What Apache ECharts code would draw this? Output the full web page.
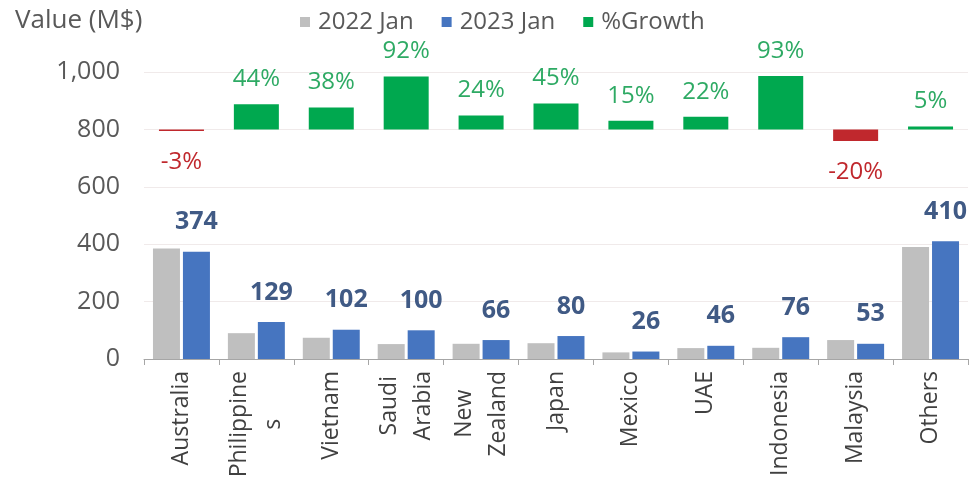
<!DOCTYPE html>
<html>
<head>
<meta charset="utf-8">
<script src="https://cdn.jsdelivr.net/npm/echarts@6/dist/echarts.min.js"></script>
<style>
  html, body { margin: 0; padding: 0; background: #ffffff; }
  #chart { width: 974px; height: 478px; }
</style>
</head>
<body>
<div id="chart"></div>
<script>
// Export value by destination, Jan 2022 vs Jan 2023 (M$), with year-on-year growth
const categories = ['Australia', 'Philippine\ns', 'Vietnam', 'Saudi\nArabia', 'New\nZealand', 'Japan', 'Mexico', 'UAE', 'Indonesia', 'Malaysia', 'Others'];
const values2022 = [385, 90, 74, 52, 53, 55, 23, 38, 39, 66, 390];
const values2023 = [374, 129, 102, 100, 66, 80, 26, 46, 76, 53, 410];
const growthPct = [-3, 44, 38, 92, 24, 45, 15, 22, 93, -20, 5];
const yTicks = [0, 200, 400, 600, 800, 1000];

// Growth bars hang off a baseline on the value axis
const growthBase = 800;
const growthScale = 2; // value-axis units per percentage point

const FONT = '"Open Sans", "Noto Sans", sans-serif';
const GREEN = '#00a84f';
const RED = '#c0282d';

const baseData = growthPct.map(g => g >= 0 ? growthBase : growthBase + g * growthScale);
const growthData = growthPct.map(g => ({
  value: Math.abs(g) * growthScale,
  itemStyle: { color: g >= 0 ? GREEN : RED },
  label: g >= 0
    ? { position: 'top', distance: 13, color: '#2eaa64' }
    : { position: 'bottom', distance: 19, color: RED }
}));

const chart = echarts.init(document.getElementById('chart'), null, { renderer: 'canvas' });

chart.setOption({
  animation: false,
  backgroundColor: '#ffffff',
  textStyle: { fontFamily: FONT },
  title: {
    text: 'Value (M$)',
    left: 15, top: 8, padding: 0,
    textStyle: { fontFamily: FONT, fontSize: 26, fontWeight: 'normal', color: '#595959' }
  },
  legend: {
    data: ['2022 Jan', '2023 Jan', '%Growth'],
    left: 300, top: 10, padding: 0,
    icon: 'rect', itemWidth: 10, itemHeight: 10, itemGap: 28,
    textStyle: { fontFamily: FONT, fontSize: 24, color: '#595959', padding: [0, 0, 0, 3] }
  },
  grid: { left: 144, right: 6, top: 72, bottom: 119, containLabel: false, outerBoundsMode: 'none' },
  xAxis: [
    {
      type: 'category',
      data: categories,
      axisLine: { lineStyle: { color: '#a6a6a6', width: 1 } },
      axisTick: { show: true, length: 6, interval: 0, lineStyle: { color: '#a6a6a6' } },
      axisLabel: {
        interval: 0,
        rotate: 90,
        margin: 12,
        hideOverlap: false,
        color: '#404040',
        fontSize: 23,
        formatter: v => v.split('\n').map(s => '{c|' + s + '}').join('\n'),
        rich: { c: { align: 'center', fontFamily: FONT, fontSize: 23, lineHeight: 34, color: '#404040' } }
      },
      splitLine: { show: false }
    },
    { type: 'category', data: categories, show: false }
  ],
  yAxis: {
    type: 'value',
    min: yTicks[0],
    max: yTicks[yTicks.length - 1],
    interval: yTicks[1] - yTicks[0],
    axisLine: { show: false },
    axisTick: { show: false },
    axisLabel: {
      fontFamily: FONT, fontSize: 25, color: '#595959', margin: 24,
      formatter: v => v.toLocaleString('en-US')
    },
    splitLine: { lineStyle: { color: '#f0eaea', width: 1 } }
  },
  series: [
    {
      name: '2022 Jan',
      type: 'bar',
      xAxisIndex: 0,
      data: values2022,
      barWidth: 27,
      barGap: '11%',
      itemStyle: { color: '#bfbfbf' }
    },
    {
      name: '2023 Jan',
      type: 'bar',
      xAxisIndex: 0,
      data: values2023,
      barWidth: 27,
      barGap: '11%',
      itemStyle: { color: '#4675c0' },
      label: {
        show: true, position: 'top', distance: 17,
        fontFamily: FONT, fontSize: 25, fontWeight: 'bold', color: '#405a85'
      }
    },
    {
      name: 'growthBase',
      type: 'bar',
      xAxisIndex: 1,
      stack: 'growth',
      data: baseData,
      barWidth: 45,
      silent: true,
      itemStyle: { color: 'rgba(0,0,0,0)' }
    },
    {
      name: '%Growth',
      type: 'bar',
      xAxisIndex: 1,
      stack: 'growth',
      data: growthData,
      barWidth: 45,
      itemStyle: { color: GREEN },
      label: {
        show: true,
        fontFamily: FONT, fontSize: 24,
        formatter: p => growthPct[p.dataIndex] + '%'
      }
    }
  ]
});
</script>
</body>
</html>
